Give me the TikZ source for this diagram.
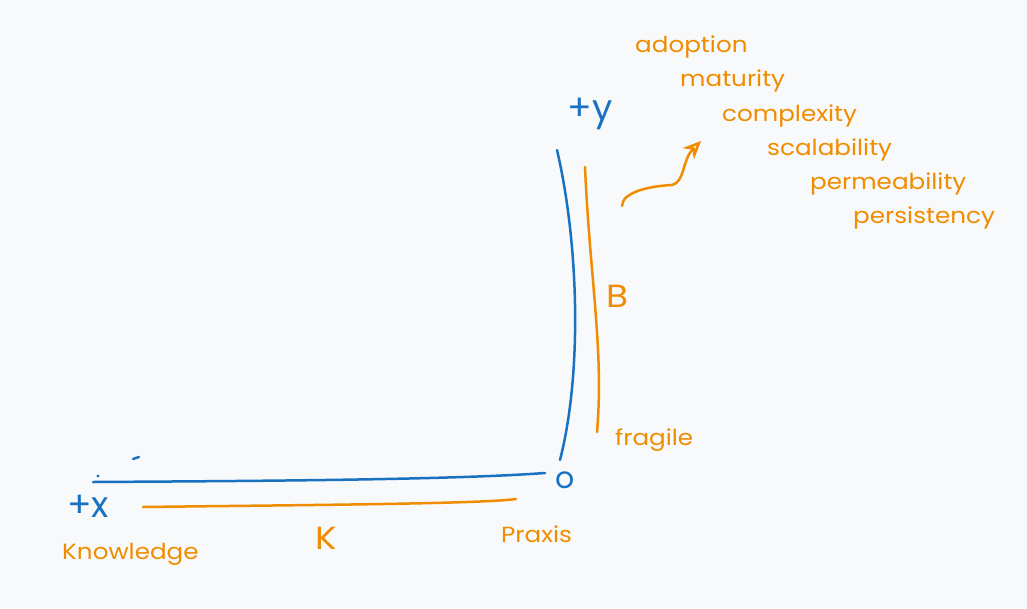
\documentclass[tikz,border=0pt]{standalone}
\usepackage{fontspec}
\setmainfont{Poppins}
\usetikzlibrary{arrows.meta}
\definecolor{bg}{RGB}{248,249,250}
\definecolor{xblue}{RGB}{25,113,194}
\definecolor{xorange}{RGB}{240,140,0}
\tikzset{
  bluestroke/.style={draw=xblue,line width=2.5pt,line cap=round,line join=round},
  orangestroke/.style={draw=xorange,line width=2.5pt,line cap=round,line join=round},
  olabel/.style={text=xorange,font=\fontsize{22}{24}\selectfont,anchor=west,inner sep=0pt,xscale=1.12,transform shape},
  blabel/.style={text=xblue,font=\fontsize{36}{38}\selectfont,inner sep=0pt},
}
\begin{document}
\begin{tikzpicture}[x=1pt,y=-1pt]
\fill[bg] (0,0) rectangle (1027,608);
\useasboundingbox (0,0) rectangle (1027,608);
% axis end coordinates
\coordinate (ytop) at (557,150);
\coordinate (ybot) at (560,460);
\coordinate (xleft) at (93,482);
\coordinate (xright) at (545,473);
\coordinate (bxl) at (143,507);
\coordinate (bxr) at (516,499);
\coordinate (oyt) at (585,167);
\coordinate (oyb) at (597,432);
\coordinate (as) at (622,206);
\coordinate (at) at (701,141);
% blue axes
\draw[bluestroke] (ytop) .. controls (578,240) and (583,370) .. (ybot);
\draw[bluestroke] (xleft) .. controls (250,481) and (450,480) .. (xright);
\draw[bluestroke] (133,459) -- (139,457);
\fill[xblue] (98,476) circle (1.6pt);
% blue labels
\node[blabel] (py) at (590,114) {+y};
\node[blabel] (px) at (88,506) {+x};
\node[blabel,font=\fontsize{30}{32}\selectfont] (zero) at (565,480) {o};
% orange lines
\draw[orangestroke] (bxl) .. controls (300,505) and (480,504) .. (bxr);
\draw[orangestroke] (oyt) .. controls (590,280) and (604,350) .. (oyb);
% orange arrow
\draw[orangestroke,-{Stealth[open,length=18pt,width=16pt]}] (as) .. controls (622,192) and (650,186) .. (672,185)
  .. controls (685,182) and (682,160) .. (at);
% orange labels
\node[olabel] (adoption) at (635,47) {adoption};
\node[olabel] (maturity) at (680,81) {maturity};
\node[olabel] (complexity) at (722,116) {complexity};
\node[olabel] (scalability) at (767,150) {scalability};
\node[olabel] (permeability) at (810,184) {permeability};
\node[olabel] (persistency) at (853,218) {persistency};
\node[olabel] (fragile) at (615,440) {fragile};
\node[olabel] (praxis) at (501,534) {Praxis};
\node[olabel] (knowledge) at (62,554) {Knowledge};
\node[olabel,font=\fontsize{32}{34}\selectfont,anchor=center] (K) at (326,538) {K};
\node[olabel,font=\fontsize{32}{34}\selectfont,anchor=center] (B) at (617,296) {B};
\end{tikzpicture}
\end{document}
